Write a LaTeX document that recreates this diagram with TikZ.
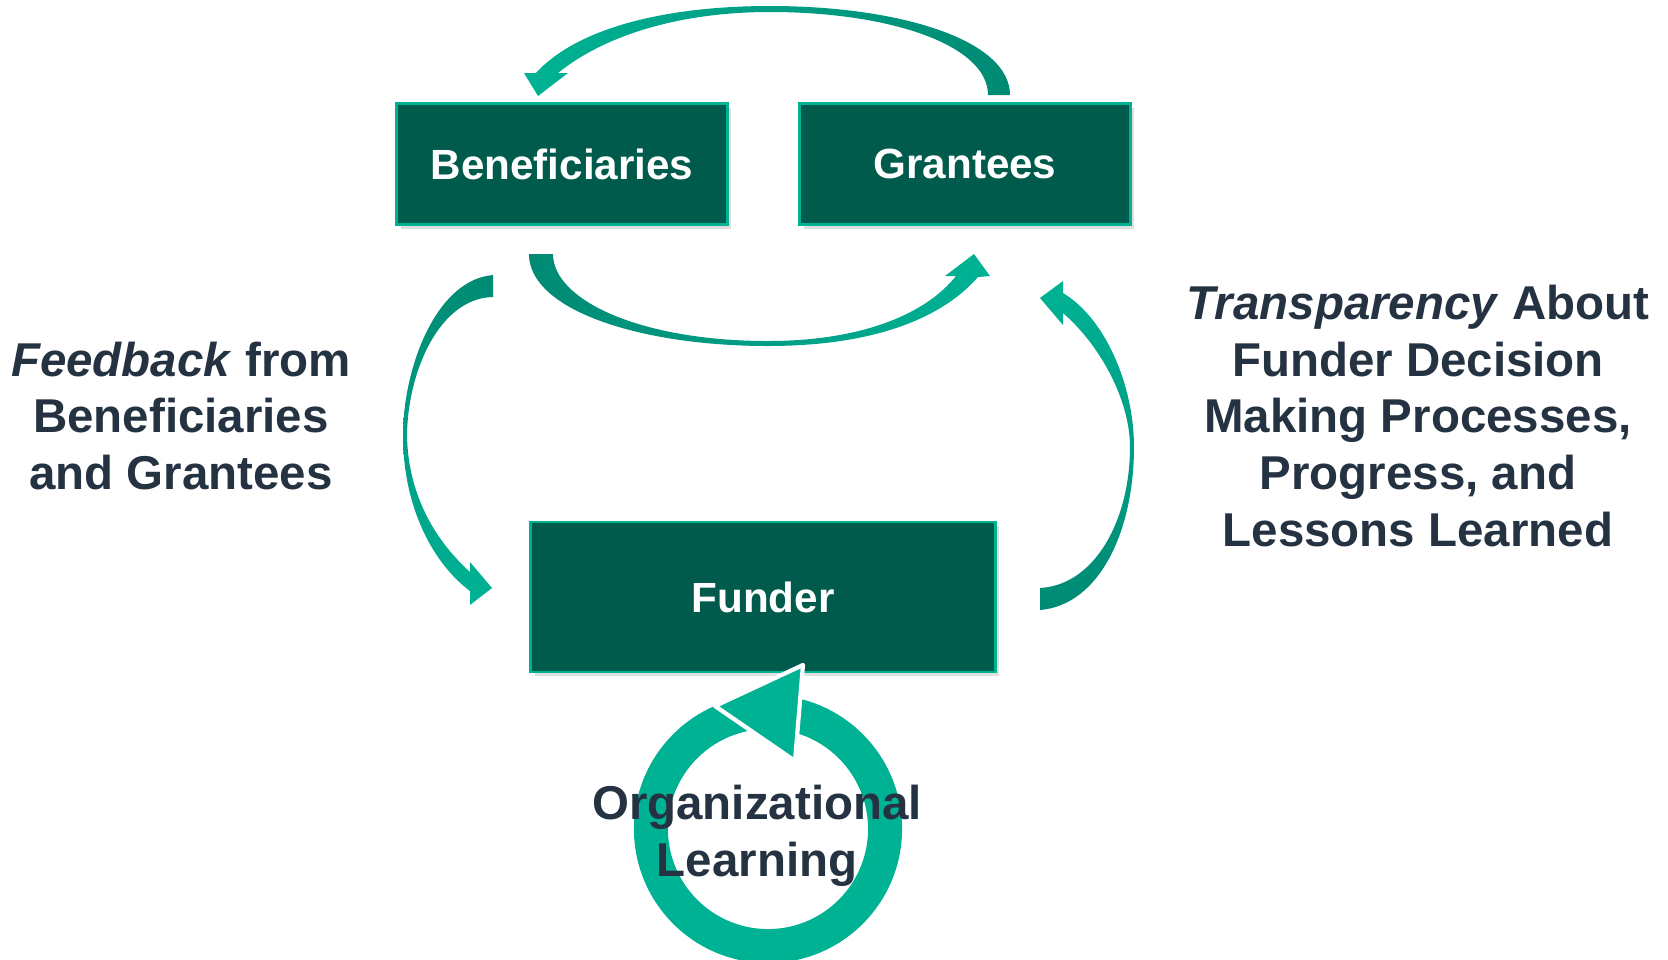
\documentclass[tikz,border=0pt]{standalone}
\usepackage{fontspec}
\setmainfont{Liberation Sans}
\usetikzlibrary{shadows}
\definecolor{boxgreen}{RGB}{0,91,76}
\definecolor{tealA}{RGB}{0,178,148}
\definecolor{tealB}{RGB}{0,138,116}
\definecolor{inkblue}{RGB}{37,50,66}
\tikzset{
  party/.style={draw=tealA, line width=0.8pt, fill=boxgreen, text=white,
    font=\fontsize{12}{14}\selectfont\bfseries, inner sep=0pt,
    drop shadow={opacity=0.25, shadow xshift=1.2pt, shadow yshift=-1.2pt}},
  caption/.style={text=inkblue, align=center, font=\fontsize{13.5}{16.2}\selectfont\bfseries}
}
\begin{document}
\begin{tikzpicture}[x=0.01cm, y=-0.01cm]
\useasboundingbox (0,0) rectangle (1668,960);
% boxes
\node [party, minimum width=3.3cm, minimum height=1.21cm] (ben) at (562,164) {Beneficiaries};
\node [party, minimum width=3.3cm, minimum height=1.21cm] (grant) at (965,164) {Grantees};
\node [party, minimum width=4.64cm, minimum height=1.5cm] (funder) at (763,597) {Funder};
% curved arrows
\shade [left color=tealA, right color=tealB]
  (1010,95) .. controls (1010,40) and (900,6) .. (770,6)
  .. controls (660,6) and (575,30) .. (536,73)
  -- (524,73) -- (538,96) -- (568,73) -- (558,73)
  .. controls (605,35) and (680,12) .. (770,12)
  .. controls (890,12) and (988,45) .. (988,95) -- cycle;
\shade [left color=tealB, right color=tealA]
  (553,254) -- (529,254) .. controls (529,310) and (640,346) .. (768,346)
  .. controls (880,346) and (945,315) .. (978,277)
  -- (990,276) -- (974,254) -- (945,276) -- (956,276)
  .. controls (925,315) and (860,341) .. (768,341)
  .. controls (640,341) and (553,300) .. (553,254) -- cycle;
\shade [top color=tealB, bottom color=tealA]
  (493,275) .. controls (435,280) and (403,370) .. (403,435)
  .. controls (403,510) and (435,565) .. (470,591)
  -- (470,605) -- (492,588) -- (470,562) -- (470,572)
  .. controls (440,545) and (408,500) .. (407,435)
  .. controls (408,370) and (440,298) .. (493,297) -- cycle;
\shade [top color=tealA, bottom color=tealB]
  (1040,610) .. controls (1100,605) and (1134,530) .. (1134,447)
  .. controls (1134,385) and (1105,318) .. (1063,293)
  -- (1063,281) -- (1040,298) -- (1063,325) -- (1063,313)
  .. controls (1100,345) and (1130,400) .. (1130,447)
  .. controls (1130,520) and (1095,585) .. (1040,588) -- cycle;
% learning loop
\draw [tealA, line width=0.34cm] (768,829) circle (1.17cm);
\draw [fill=tealA, draw=white, line width=1.2pt, line join=round] (803,665) -- (715,706) -- (795,761) -- cycle;
% captions
\node [caption] (feedback) at (181,416) {\textit{Feedback} from\\Beneficiaries\\and Grantees};
\node [caption] (transp) at (1418,416) {\textit{Transparency} About\\Funder Decision\\Making Processes,\\Progress, and\\Lessons Learned};
\node [caption] (learn) at (757,836) {Organizational\\Learning};
\end{tikzpicture}
\end{document}
